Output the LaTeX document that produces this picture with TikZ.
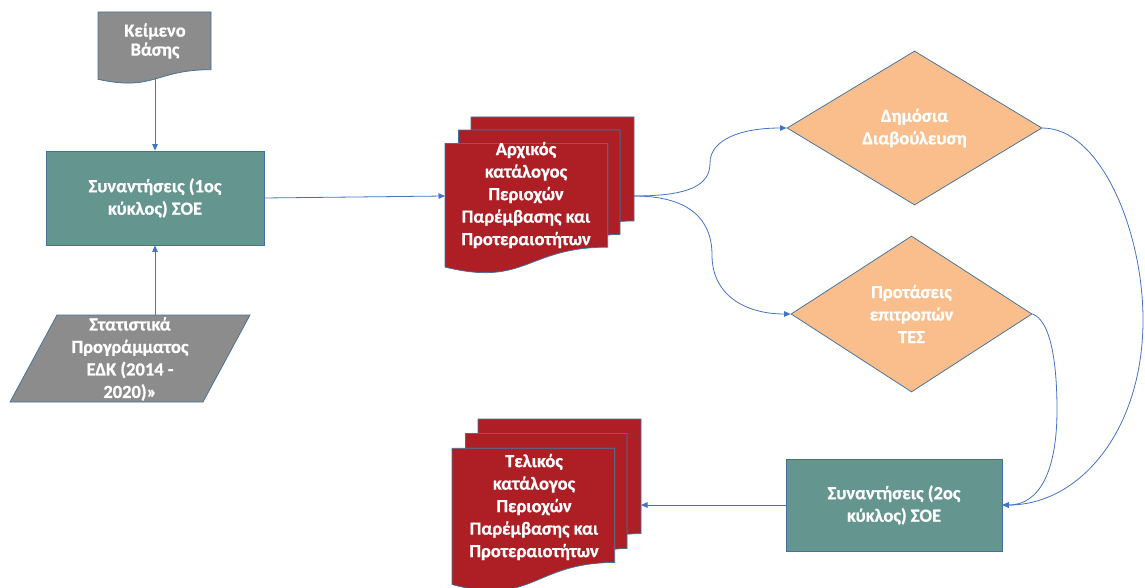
\documentclass[tikz,border=0pt]{standalone}
\usepackage{fontspec}
\setmainfont{Carlito}[BoldFont={Carlito Bold},BoldFeatures={FakeBold=0.8}]
\usetikzlibrary{arrows.meta,shapes.geometric}

\definecolor{lnblue}{HTML}{4472C4}
\definecolor{edgeblue}{HTML}{41719C}
\definecolor{greybox}{HTML}{8C8C8C}
\definecolor{soeteal}{HTML}{64958F}
\definecolor{listred}{HTML}{AD1F25}
\definecolor{peach}{HTML}{F9BE8C}

% stacked pages: #1,#2 = top-left corner, #3,#4 = x/y scale of a 216x216 frame
\newcommand\stackdocs[4]{%
  \begin{scope}[shift={(#1,#2)},xscale=#3,yscale=#4]
    \draw[shp,fill=listred] (29.72,18.15) -- (29.72,0) -- (216,0) -- (216,143.92)
      .. controls (208,143.92) and (200,144.67) .. (200,144.67) -- (200,18.15) -- cycle;
    \draw[shp,fill=listred] (15.32,36.75) -- (15.32,18.15) -- (200,18.15) -- (200,162.52)
      .. controls (192.98,162.52) and (185.95,163.52) .. (185.95,163.52) -- (185.95,36.75) -- cycle;
    \draw[shp,fill=listred] (0,207.82) .. controls (92.98,235.42) and (92.98,180.22) .. (185.95,180.22)
      -- (185.95,36.75) -- (0,36.75) -- cycle;
  \end{scope}}

\begin{document}
\begin{tikzpicture}[x=1pt,y=-1pt,
  lbl/.style={text=white,font=\bfseries\fontsize{18.5}{22.5}\selectfont,align=center},
  shp/.style={draw=edgeblue,line width=0.75pt},
  boxstyle/.style={shp,fill=soeteal,inner sep=0pt,lbl},
  choice/.style={shp,diamond,fill=peach,inner sep=0pt,lbl},
  link/.style={draw=lnblue,line width=0.8pt,-{Triangle[length=6.5pt,width=5.5pt]}}]

\useasboundingbox (0,0) rectangle (1145,588);

% base document
\draw[shp,fill=greybox] (98,12) -- (211,12) -- (211,69.7)
  .. controls (154.5,69.7) and (154.5,91.7) .. (98,79.3) -- cycle;
\node[lbl,font=\bfseries\fontsize{18.5}{19}\selectfont] (base) at (155,41) {Κείμενο\\Βάσης};
\coordinate (base-out) at (155,78);

% first round of meetings
\node[boxstyle,minimum width=218pt,minimum height=94pt] (soe1) at (155,198)
  {Συναντήσεις (1ος\\κύκλος) ΣΟΕ};

% statistics input
\draw[shp,fill=greybox] (57,315) -- (250,315) -- (203,402) -- (10,402) -- cycle;
\node[inner sep=0pt,minimum width=240pt,minimum height=87pt] (stats) at (130,358.5) {};
\node[lbl] (statstext) at (130,359) {Στατιστικά\\Προγράμματος\\ΕΔΚ (2014 -\\2020)»};

% initial list
\stackdocs{445}{117}{0.875}{0.7222}
\node[lbl] (list1) at (526,195) {Αρχικός\\κατάλογος\\Περιοχών\\Παρέμβασης και\\Προτεραιοτήτων};
\coordinate (list1-in) at (445,196);
\coordinate (list1-out) at (634,196);

% decisions
\node[choice,minimum width=255pt,minimum height=154pt] (consult) at (914.5,128)
  {Δημόσια\\Διαβούλευση};
\node[choice,minimum width=241pt,minimum height=156pt] (tes) at (911.5,314)
  {Προτάσεις\\επιτροπών\\ΤΕΣ};

% second round of meetings
\node[boxstyle,minimum width=216pt,minimum height=92pt] (soe2) at (894,505)
  {Συναντήσεις (2ος\\κύκλος) ΣΟΕ};

% final list
\stackdocs{452}{419}{0.875}{0.7963}
\node[lbl] (list2) at (534,507) {Τελικός\\κατάλογος\\Περιοχών\\Παρέμβασης και\\Προτεραιοτήτων};
\coordinate (list2-in) at (641,505);

% connectors
\draw[link] (base-out) -- (soe1.north);
\draw[link] (stats.north -| soe1.south) -- (soe1.south);
\draw[link] (soe1.east) -- (list1-in);
\draw[link] (list1-out) .. controls (690,196) and (710,185) .. (710,163)
  .. controls (710,140) and (740,128) .. (consult.west);
\draw[link] (list1-out) .. controls (690,196) and (712,220) .. (712,255)
  .. controls (712,295) and (745,314) .. (tes.west);
\draw[link] (consult.east) .. controls (1100,128) and (1143,230) .. (1143,320)
  .. controls (1143,430) and (1080,505) .. (soe2.east);
\draw[link] (tes.east) .. controls (1050,320) and (1057,360) .. (1057,410)
  .. controls (1057,470) and (1040,505) .. (soe2.east);
\draw[link] (soe2.west) -- (list2-in);
\end{tikzpicture}
\end{document}
